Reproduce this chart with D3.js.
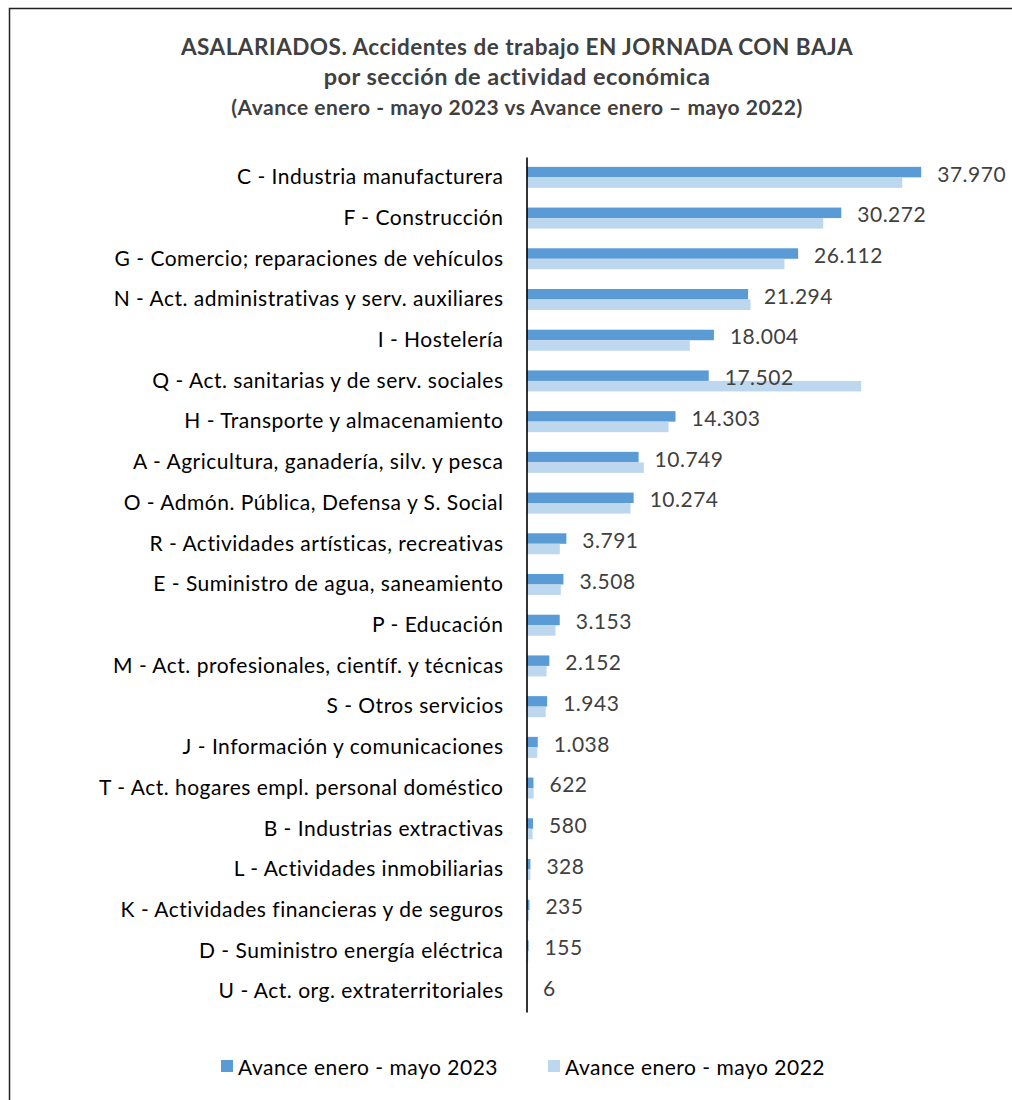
<!DOCTYPE html>
<html><head><meta charset="utf-8">
<script src="https://cdn.jsdelivr.net/npm/d3@7"></script>
<style>
body{margin:0;background:#fff;}
svg{display:block;font-family:Lato, "Open Sans", sans-serif;}
</style></head>
<body>
<svg id="chart" width="1012" height="1100"></svg>
<script>
const categories = [
  "C - Industria manufacturera",
  "F - Construcción",
  "G - Comercio; reparaciones de vehículos",
  "N - Act. administrativas y serv. auxiliares",
  "I - Hostelería",
  "Q - Act. sanitarias y de serv. sociales",
  "H - Transporte y almacenamiento",
  "A - Agricultura, ganadería, silv. y pesca",
  "O - Admón. Pública, Defensa y S. Social ",
  "R - Actividades artísticas, recreativas",
  "E - Suministro de agua, saneamiento",
  "P - Educación",
  "M - Act. profesionales, científ. y técnicas",
  "S - Otros servicios",
  "J - Información y comunicaciones",
  "T - Act. hogares empl. personal doméstico",
  "B - Industrias extractivas",
  "L - Actividades inmobiliarias",
  "K - Actividades financieras y de seguros",
  "D - Suministro energía eléctrica",
  "U - Act. org. extraterritoriales"
];
const series = ["Avance enero - mayo 2023", "Avance enero - mayo 2022"];
const values2023 = [37970, 30272, 26112, 21294, 18004, 17502, 14303, 10749, 10274, 3791, 3508, 3153, 2152, 1943, 1038, 622, 580, 328, 235, 155, 6];
const values2022 = [36140, 28530, 24800, 21530, 15680, 32190, 13630, 11250, 9970, 3160, 3256, 2745, 1880, 1800, 990, 640, 540, 330, 200, 130, 5];
const titleLines = [
  "ASALARIADOS. Accidentes de trabajo EN JORNADA CON BAJA",
  "por sección de actividad económica",
  "(Avance enero - mayo 2023 vs Avance enero – mayo 2022)"
];
const colors = ["#5b9bd5", "#bdd7ee"];

const svg = d3.select("#chart");

// frame
svg.append("rect").attr("x", 9.5).attr("y", 8.5).attr("width", 1010).attr("height", 1110)
  .attr("fill", "none").attr("stroke", "#222").attr("stroke-width", 1.5);

// title
const tSizes = [22.5, 23.5, 21];
const tY = [55, 85, 115];
titleLines.forEach((t, i) => {
  svg.append("text").attr("x", 517).attr("y", tY[i]).attr("text-anchor", "middle")
    .attr("font-size", tSizes[i]).attr("font-weight", "bold").attr("letter-spacing", 0.5)
    .attr("fill", "#404040").text(t);
});

const data = categories.map((c, i) => ({cat: c, v: [values2023[i], values2022[i]]}));

const x = d3.scaleLinear().domain([0, 40000]).range([527, 942.3]);
const y = d3.scaleBand().domain(categories).range([157, 1012]).paddingInner(0.484).paddingOuter(0.242);
const ys = d3.scaleBand().domain(series).range([0, y.bandwidth()]);

const fmt = d3.formatLocale({decimal: ",", thousands: ".", grouping: [3], currency: ["", "€"]}).format(",d");

const g = svg.append("g");
const grp = g.selectAll("g.cat").data(data).join("g").attr("class", "cat")
  .attr("transform", d => `translate(0,${y(d.cat)})`);
grp.selectAll("rect").data(d => d.v.map((v, j) => ({v, s: series[j], j}))).join("rect")
  .attr("x", x(0)).attr("y", d => ys(d.s)).attr("height", ys.bandwidth())
  .attr("width", d => x(d.v) - x(0)).attr("fill", d => colors[d.j]);

grp.append("text").attr("x", d => x(d.v[0]) + 16).attr("y", ys(series[0]) + ys.bandwidth() / 2 + 1)
  .attr("dominant-baseline", "central").attr("font-size", 21).attr("letter-spacing", 0.5)
  .attr("fill", "#404040").text(d => fmt(d.v[0]));

// axis
const axis = d3.axisLeft(y).tickSize(0).tickPadding(23);
const ax = svg.append("g").attr("transform", `translate(${x(0) - 0.5},0)`).call(axis);
ax.select(".domain").attr("stroke", "#000").attr("stroke-width", 1.6);
ax.selectAll(".tick text").attr("font-size", 21).attr("letter-spacing", 0.5)
  .attr("fill", "#000").attr("font-family", "Lato, sans-serif");

// legend
const lg = svg.append("g");
const lx = [221, 548];
series.forEach((s, i) => {
  lg.append("rect").attr("x", lx[i]).attr("y", 1060).attr("width", 12).attr("height", 12).attr("fill", colors[i]);
  lg.append("text").attr("x", lx[i] + 17).attr("y", 1066).attr("dominant-baseline", "central")
    .attr("font-size", 21).attr("letter-spacing", 0.5).attr("fill", "#000").text(s);
});
</script>
</body></html>
